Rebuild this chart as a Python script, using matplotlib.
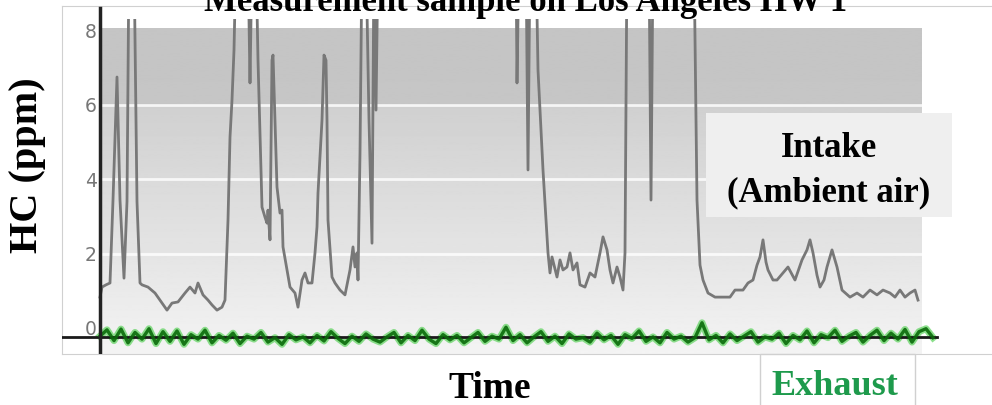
import numpy as np
import matplotlib.pyplot as plt
from matplotlib.patches import Rectangle

# intake (ambient air) HC trace; 10 = off the top of the scale
intake_t = [0, 2, 6, 10, 13, 17, 20, 24, 27, 29, 34, 37, 40,
            42, 48, 55, 62, 67, 72, 78, 85, 90, 95, 98, 103, 108, 112, 117, 122, 125,
            128, 130, 132, 134, 136, 148, 150, 152, 156, 158,
            162, 165, 167, 168, 170, 172, 173, 175, 177, 180, 182, 183, 187, 190,
            195, 198, 202, 205, 208, 212, 215, 217, 218, 222, 224, 226, 227, 228,
            232, 235, 240, 245, 250, 253, 255, 257, 258, 260, 262, 266, 269, 272,
            274, 276, 278, 416, 417, 419, 426, 428, 430, 436, 438, 443, 448,
            450, 452, 457, 460, 463, 467, 470, 473, 477, 480, 485, 490, 495, 500,
            503, 507, 510, 513, 517, 520, 523, 525, 527, 549, 551, 553, 594, 597,
            600, 603, 608, 615, 622, 630, 635, 643, 648, 653, 657, 660, 663, 666,
            668, 673, 677, 683, 688, 695, 702, 707, 710, 713, 717, 720, 724, 727,
            732, 737, 742, 750, 757, 763, 770, 777, 783, 790, 795, 800, 805, 810,
            815, 818]
intake_ppm = [0.83, 1.10, 1.16, 1.21, 3.44, 6.75, 3.44, 1.34, 3.40, 10, 10, 3.40, 1.21,
              1.16, 1.10, 0.94, 0.67, 0.48, 0.67, 0.70, 0.94, 1.10, 0.94, 1.21, 0.89, 0.75, 0.62, 0.48, 0.56, 0.75,
              2.90, 5.13, 6.13, 7.47, 10, 10, 6.59, 10, 10, 7.20,
              3.25, 2.98, 2.82, 3.17, 2.37, 7.20, 7.34, 5.59, 3.79, 3.09, 3.17, 2.18, 1.56, 1.10,
              0.94, 0.56, 1.29, 1.48, 1.21, 1.21, 2.02, 2.72, 3.63, 5.59, 7.34, 7.20, 5.59, 2.90,
              1.37, 1.21, 1.02, 0.89, 1.56, 2.18, 1.64, 2.02, 1.29, 4.70, 10, 10, 5.60, 2.28,
              10, 5.86, 10, 10, 6.59, 10, 10, 4.25, 10, 10, 6.94, 4.25, 2.02,
              1.48, 1.91, 1.37, 1.83, 1.56, 1.64, 2.02, 1.56, 1.75, 1.16, 1.10, 1.48, 1.37, 2.02,
              2.45, 2.10, 1.56, 1.21, 1.64, 1.37, 1.02, 2.02, 10, 10, 3.44, 10, 10, 3.44,
              1.69, 1.29, 0.94, 0.83, 0.83, 0.83, 1.02, 1.02, 1.21, 1.29, 1.69, 1.91, 2.37, 1.77,
              1.56, 1.29, 1.29, 1.48, 1.64, 1.29, 1.83, 2.10, 2.37, 2.02, 1.42, 1.10, 1.29, 1.64,
              2.10, 1.64, 1.02, 0.83, 0.94, 0.83, 1.02, 0.89, 1.02, 0.94, 0.83, 1.02, 0.83, 0.94,
              1.02, 0.75]

# exhaust HC trace (sampled every 7 time units)
exhaust_ppm = [-0.22, -0.05, -0.34, -0.03, -0.40, -0.12, -0.30, -0.02, -0.42, -0.10,
               -0.36, -0.08, -0.44, -0.18, -0.30, -0.06, -0.40, -0.20, -0.33, -0.14,
               -0.42, -0.22, -0.30, -0.12, -0.38, -0.26, -0.44, -0.18, -0.32, -0.24,
               -0.40, -0.20, -0.35, -0.10, -0.28, -0.42, -0.22, -0.36, -0.16, -0.30,
               -0.38, -0.24, -0.12, -0.40, -0.20, -0.34, -0.06, -0.30, -0.42, -0.18,
               -0.32, -0.20, -0.40, -0.26, -0.12, -0.36, -0.22, -0.30, 0.02, -0.34,
               -0.18, -0.40, -0.24, -0.10, -0.36, -0.22, -0.42, -0.16, -0.30, -0.26,
               -0.38, -0.14, -0.32, -0.20, -0.44, -0.18, -0.28, -0.08, -0.36, -0.24,
               -0.40, -0.12, -0.30, -0.22, -0.38, -0.26, 0.14, -0.32, -0.20, -0.40,
               -0.16, -0.34, -0.22, -0.10, -0.38, -0.24, -0.30, -0.14, -0.42, -0.20,
               -0.32, -0.08, -0.40, -0.18, -0.26, -0.06, -0.36, -0.22, -0.12, -0.38,
               -0.20, -0.06, -0.34, -0.14, -0.30, -0.04, -0.38, -0.10, -0.02, -0.26]
exhaust_t = np.arange(len(exhaust_ppm)) * 7

y_ticks = [0, 2, 4, 6, 8]

W, H = 992, 405
serif = 'Liberation Serif'


def box(x0, y0, x1, y1):
    # pixel box -> figure fraction [left, bottom, width, height]
    return [x0 / W, 1 - y1 / H, (x1 - x0) / W, (y1 - y0) / H]


fig = plt.figure(figsize=(9.92, 4.05), dpi=100)
ax = fig.add_axes(box(62, 6, 992, 354))
ax.set_xlim(-38, 892)
ax.set_ylim(-0.70, 8.66)

# shaded background of the instrument plot
levels = np.linspace(-0.7, 8.06, 300)
shade = np.interp(levels, [-0.7, 0, 2, 4, 5.99, 6.0, 8.06],
                  [0.955, 0.94, 0.895, 0.855, 0.815, 0.775, 0.77])
ax.imshow(shade[:, None], extent=(0, 822, -0.7, 8.06), aspect='auto',
          cmap='gray', vmin=0, vmax=1, origin='lower', zorder=0)
ax.hlines([2, 4, 6], 0, 822, color='white', lw=2, alpha=0.8, zorder=1)

# intake line, clipped at the top of the scale
ln, = ax.plot(intake_t, intake_ppm, color='#787878', lw=2.0, zorder=3)
ln.set_clip_path(Rectangle((-38, -0.7), 930, 9.0, transform=ax.transData))

# exhaust line around the zero line
ax.plot(exhaust_t, exhaust_ppm, color='#5cd35c', lw=5, alpha=0.7, zorder=4)
ax.plot([-38, 837], [-0.24, -0.24], color='#1a1a1a', lw=2, zorder=5)
ax.plot(exhaust_t, exhaust_ppm, color='#0b6b0b', lw=2.4, alpha=0.9, zorder=6)
ax.axvline(0, 0, 0.994, color='#222222', lw=2.5, zorder=7)

for s in ['left', 'top', 'bottom']:
    ax.spines[s].set_color('#d0d0d0')
ax.spines['right'].set_visible(False)
ax.set_xticks([])
ax.set_yticks(y_ticks)
ax.tick_params(axis='y', length=0, pad=-25, labelsize=13.5, labelcolor='#777777')

# labels
fig.add_artist(Rectangle(box(706, 113, 952, 217)[:2], (952 - 706) / W, (217 - 113) / H,
                         transform=fig.transFigure, facecolor='#efefef', edgecolor='none'))
fig.add_artist(Rectangle(box(760, 354, 915, 410)[:2], (915 - 760) / W, (410 - 354) / H,
                         transform=fig.transFigure, facecolor='white', edgecolor='#d0d0d0', lw=1))

fig.text(526 / W, 1 - 11 / H, 'Measurement sample on Los Angeles HW 1', ha='center',
         va='baseline', fontsize=25, fontweight='bold', family=serif)
fig.text(829 / W, 1 - 157 / H, 'Intake', ha='center', va='baseline',
         fontsize=25, fontweight='bold', family=serif)
fig.text(829 / W, 1 - 201 / H, '(Ambient air)', ha='center', va='baseline',
         fontsize=25, fontweight='bold', family=serif)
fig.text(28 / W, 1 - 165 / H, 'HC (ppm)', ha='center', va='center', rotation=90,
         fontsize=29, fontweight='bold', family=serif)
fig.text(490 / W, 1 - 398 / H, 'Time', ha='center', va='baseline',
         fontsize=27, fontweight='bold', family=serif)
fig.text(835 / W, 1 - 395 / H, 'Exhaust', ha='center', va='baseline',
         fontsize=26, fontweight='bold', family=serif, color='#1e9a4c')

fig.savefig('out.png', dpi=100)
